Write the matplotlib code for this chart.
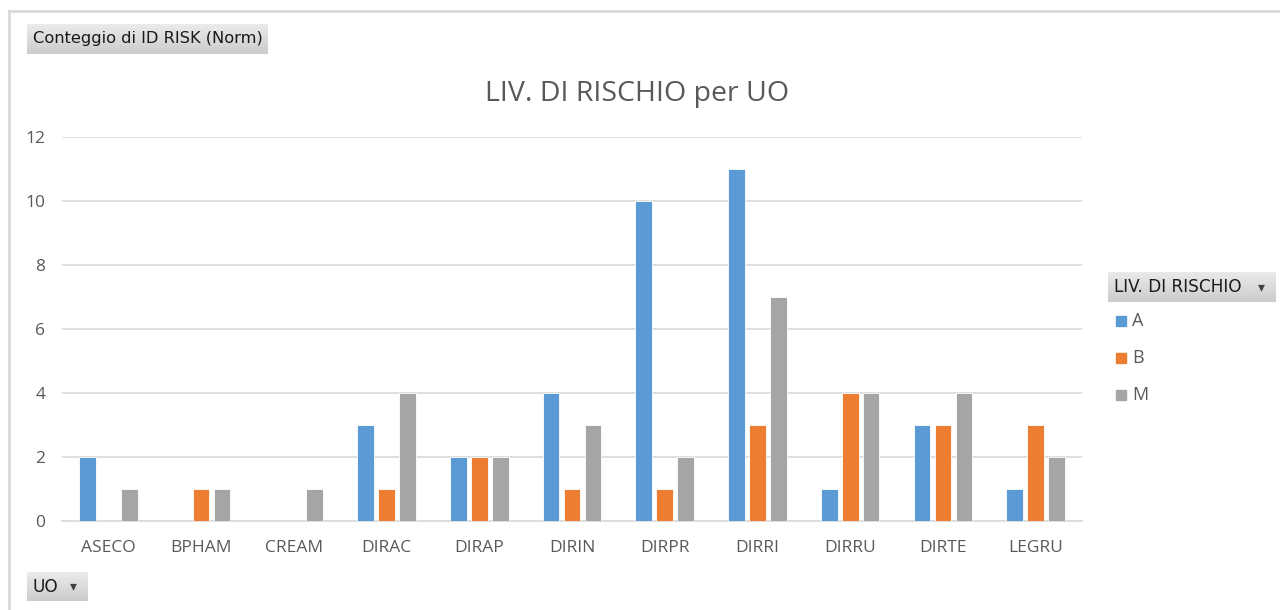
import numpy as np
import matplotlib.pyplot as plt
from matplotlib.patches import Rectangle
from matplotlib.lines import Line2D

plt.rcParams['font.family'] = ['Open Sans', 'DejaVu Sans']

# dati della pivot
uo = ['ASECO', 'BPHAM', 'CREAM', 'DIRAC', 'DIRAP', 'DIRIN',
      'DIRPR', 'DIRRI', 'DIRRU', 'DIRTE', 'LEGRU']
liv_a = [2, 0, 0, 3, 2, 4, 10, 11, 1, 3, 1]
liv_b = [0, 1, 0, 1, 2, 1, 1, 3, 4, 3, 3]
liv_m = [1, 1, 1, 4, 2, 3, 2, 7, 4, 4, 2]
serie = [('A', liv_a, '#5B9BD5'), ('B', liv_b, '#ED7D31'), ('M', liv_m, '#A5A5A5')]
y_ticks = [0, 2, 4, 6, 8, 10, 12]

W, H = 1280, 610
fig = plt.figure(figsize=(W / 100, H / 100), dpi=100)
fig.patch.set_facecolor('white')


def fx(px):
    return px / W


def fy(py):
    return 1 - py / H


# cornice grigia del grafico
fig.add_artist(Line2D([fx(9), fx(9)], [fy(11), 0], transform=fig.transFigure,
                      color='#D9D9D9', lw=2))
fig.add_artist(Line2D([fx(9), 1], [fy(11), fy(11)], transform=fig.transFigure,
                      color='#D9D9D9', lw=2))

ax = fig.add_axes([fx(62), fy(521), fx(1082) - fx(62), fy(137) - fy(521)])
x = np.arange(len(uo))
off = 0.226
bw = 0.18
for i, (nome, vals, col) in enumerate(serie):
    ax.bar(x + (i - 1) * off, vals, width=bw, color=col, edgecolor='white',
           linewidth=0.6, label=nome, zorder=3)

ax.set_xlim(-0.5, len(uo) - 0.5)
ax.set_ylim(0, 12)
ax.set_yticks(y_ticks)
ax.set_xticks(x)
ax.set_xticklabels(uo)
ax.grid(axis='y', color='#D9D9D9', lw=1.2, zorder=0)
for s in ['top', 'right', 'left']:
    ax.spines[s].set_visible(False)
ax.spines['bottom'].set_color('#D9D9D9')
ax.spines['bottom'].set_linewidth(1.2)
ax.tick_params(axis='both', length=0, labelsize=12.5, labelcolor='#595959')
ax.tick_params(axis='y', pad=12)
ax.tick_params(axis='x', pad=14)

fig.text(fx(637), fy(94), 'LIV. DI RISCHIO per UO', ha='center', va='center',
         fontsize=20.5, color='#595959')


# pulsanti della pivot con sfumatura
def pulsante(x0, y0, x1, y1, testo, freccia=False, fs=12.2):
    bax = fig.add_axes([fx(x0), fy(y1), fx(x1) - fx(x0), fy(y0) - fy(y1)])
    grad = np.linspace(0.92, 0.80, 50).reshape(-1, 1)
    bax.imshow(np.dstack([grad, grad, grad]), aspect='auto',
               extent=[0, 1, 0, 1], origin='upper')
    bax.set_xlim(0, 1)
    bax.set_ylim(0, 1)
    bax.axis('off')
    bax.text(6 / (x1 - x0), 0.5, testo, ha='left', va='center',
             fontsize=fs, color='#1A1A1A', family=['DejaVu Sans'])
    if freccia:
        bax.text(1 - 15 / (x1 - x0), 0.5, '▾', ha='center', va='center',
                 fontsize=10, color='#404040', family=['DejaVu Sans'])


pulsante(27, 24, 268, 54, 'Conteggio di ID RISK (Norm)', fs=11.7)
pulsante(1108, 272, 1276, 302, 'LIV. DI RISCHIO', freccia=True)
pulsante(27, 572, 88, 601, 'UO', freccia=True)

# legenda
for k, (nome, vals, col) in enumerate(serie):
    yc = 321 + k * 37
    fig.add_artist(Rectangle((fx(1116), fy(yc + 5)), fx(10), 10 / H,
                             transform=fig.transFigure, color=col))
    fig.text(fx(1132), fy(yc), nome, ha='left', va='center',
             fontsize=13, color='#595959')

fig.savefig('out.png', dpi=100)
